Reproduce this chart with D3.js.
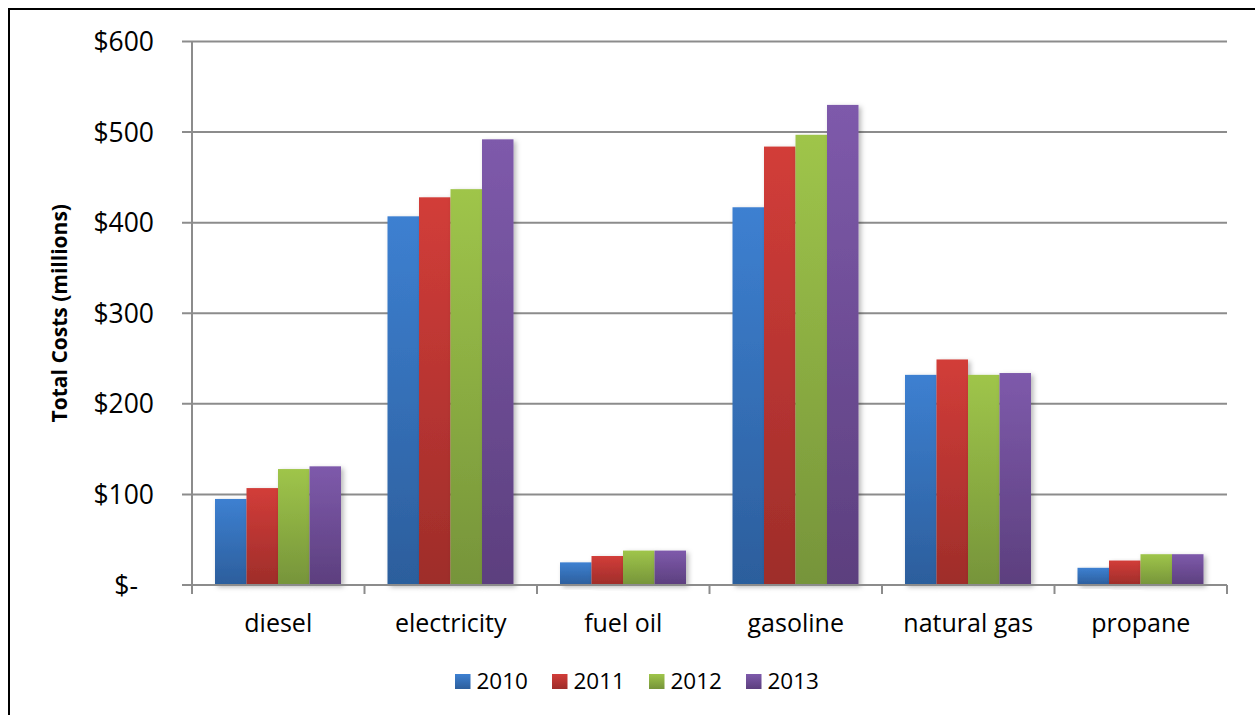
<!DOCTYPE html>
<html>
<head>
<meta charset="utf-8">
<script src="https://cdn.jsdelivr.net/npm/d3@7"></script>
<style>
  html, body { margin: 0; padding: 0; background: #fff; }
  svg { display: block; }
  text { font-family: "Open Sans", "Noto Sans", sans-serif; fill: #000; }
</style>
</head>
<body>
<svg id="chart" width="1255" height="715"></svg>
<script>
// ---- data ----
const categories = ["diesel", "electricity", "fuel oil", "gasoline", "natural gas", "propane"];
const years = ["2010", "2011", "2012", "2013"];
const v2010 = [95, 407, 25, 417, 232, 19];
const v2011 = [107, 428, 32, 484, 249, 27];
const v2012 = [128, 437, 38, 497, 232, 34];
const v2013 = [131, 492, 38, 530, 234, 34];
const yTickValues = [0, 100, 200, 300, 400, 500, 600];
const yTickLabels = ["$-", "$100", "$200", "$300", "$400", "$500", "$600"];
const yTitle = "Total Costs (millions)";

const seriesValues = [v2010, v2011, v2012, v2013];
const colorTop = ["#3d80d1", "#d23d39", "#9fc54a", "#7e5aab"];
const colorBottom = ["#2c5e9c", "#9e2d2a", "#76943a", "#5c3f7e"];

// ---- layout ----
const svg = d3.select("#chart");
const plotLeft = 192, plotRight = 1227, plotTop = 41.5, plotBottom = 585;

const x = d3.scaleBand().domain(categories).range([plotLeft, plotRight]).padding(0);
const xInner = d3.scaleBand().domain(years).range([23, x.bandwidth() - 23.5]).padding(0);
const y = d3.scaleLinear().domain([0, 600]).range([plotBottom, plotTop]);

const defs = svg.append("defs");
years.forEach((yr, i) => {
  const g = defs.append("linearGradient").attr("id", "grad" + i)
    .attr("x1", 0).attr("y1", 0).attr("x2", 0).attr("y2", 1);
  g.append("stop").attr("offset", "0%").attr("stop-color", colorTop[i]);
  g.append("stop").attr("offset", "100%").attr("stop-color", colorBottom[i]);
});
const f = defs.append("filter").attr("id", "shadow")
  .attr("x", "-20%").attr("y", "-10%").attr("width", "150%").attr("height", "130%");
f.append("feDropShadow").attr("dx", 2.5).attr("dy", 2).attr("stdDeviation", 2.5)
  .attr("flood-color", "#000").attr("flood-opacity", 0.28);

// outer frame
svg.append("rect").attr("x", 9).attr("y", 9).attr("width", 1270).attr("height", 730)
  .attr("fill", "none").attr("stroke", "#000").attr("stroke-width", 2);

const gridColor = "#8c8c8c";

// gridlines (with outward ticks on the left)
svg.append("g").selectAll("line").data(yTickValues.slice(1)).join("line")
  .attr("x1", plotLeft - 10).attr("x2", plotRight)
  .attr("y1", d => y(d)).attr("y2", d => y(d))
  .attr("stroke", gridColor).attr("stroke-width", 2);

// y tick labels
svg.append("g").selectAll("text").data(yTickValues).join("text")
  .attr("x", (d, i) => d === 0 ? plotLeft - 54 : plotLeft - 38)
  .attr("y", d => y(d)).attr("dy", "0.36em")
  .attr("text-anchor", "end").attr("font-size", 26.5)
  .text((d, i) => yTickLabels[i]);

// y axis title
svg.append("text")
  .attr("transform", `translate(67, ${(plotTop + plotBottom) / 2}) rotate(-90)`)
  .attr("text-anchor", "middle").attr("font-size", 21).attr("font-weight", "bold")
  .text(yTitle);

// bars
const groups = svg.append("g").selectAll("g").data(categories).join("g")
  .attr("transform", d => `translate(${x(d)},0)`);
groups.each(function(cat, ci) {
  d3.select(this).selectAll("rect").data(years).join("rect")
    .attr("x", yr => xInner(yr))
    .attr("width", xInner.bandwidth())
    .attr("y", (yr, si) => y(seriesValues[si][ci]))
    .attr("height", (yr, si) => plotBottom - y(seriesValues[si][ci]))
    .attr("fill", (yr, si) => `url(#grad${si})`)
    .attr("filter", "url(#shadow)");
});

// y axis line
svg.append("line").attr("x1", plotLeft).attr("x2", plotLeft)
  .attr("y1", plotTop).attr("y2", plotBottom + 9)
  .attr("stroke", gridColor).attr("stroke-width", 2);
// x axis line & ticks
svg.append("line").attr("x1", plotLeft - 10).attr("x2", plotRight)
  .attr("y1", plotBottom).attr("y2", plotBottom)
  .attr("stroke", gridColor).attr("stroke-width", 2);
const boundaries = categories.map(c => x(c)).concat([plotRight]);
svg.append("g").selectAll("line").data(boundaries).join("line")
  .attr("x1", d => d).attr("x2", d => d)
  .attr("y1", plotBottom).attr("y2", plotBottom + 9)
  .attr("stroke", gridColor).attr("stroke-width", 2);

// category labels
svg.append("g").selectAll("text").data(categories).join("text")
  .attr("x", d => x(d) + x.bandwidth() / 2).attr("y", 632)
  .attr("text-anchor", "middle").attr("font-size", 25)
  .text(d => d);

// legend
const legendStart = 455, legendStep = 97;
const leg = svg.append("g").selectAll("g").data(years).join("g")
  .attr("transform", (d, i) => `translate(${legendStart + i * legendStep}, 674)`);
leg.append("rect").attr("width", 15.5).attr("height", 15)
  .attr("fill", (d, i) => `url(#grad${i})`);
leg.append("text").attr("x", 21.5).attr("y", 15).attr("font-size", 22.5).text(d => d);
</script>
</body>
</html>
